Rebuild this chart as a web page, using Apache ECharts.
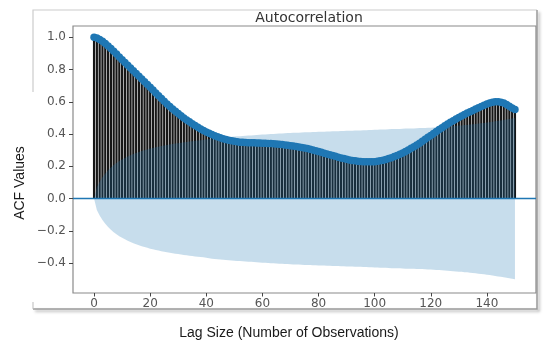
<!DOCTYPE html>
<html>
<head>
<meta charset="utf-8">
<script src="https://cdn.jsdelivr.net/npm/echarts@6/dist/echarts.min.js"></script>
<style>
html,body{margin:0;padding:0;background:#fff;}
#chart{width:550px;height:347px;}
</style>
</head>
<body>
<div id="chart"></div>
<script>
// ACF value for lag 0..150
const acfValues = [
1.000,0.995,0.987,0.976,0.962,0.946,0.930,0.913,0.896,0.878,
0.861,0.844,0.827,0.810,0.793,0.776,0.759,0.742,0.725,0.708,
0.691,0.673,0.655,0.637,0.620,0.603,0.587,0.571,0.556,0.541,
0.527,0.513,0.500,0.488,0.476,0.464,0.453,0.442,0.432,0.422,
0.413,0.405,0.397,0.390,0.383,0.377,0.371,0.366,0.362,0.358,
0.355,0.352,0.350,0.349,0.348,0.347,0.346,0.346,0.345,0.345,
0.344,0.343,0.342,0.341,0.340,0.339,0.337,0.335,0.333,0.331,
0.328,0.326,0.323,0.320,0.317,0.314,0.310,0.306,0.302,0.297,
0.292,0.287,0.282,0.277,0.272,0.267,0.262,0.257,0.252,0.248,
0.244,0.240,0.237,0.234,0.232,0.230,0.229,0.228,0.228,0.228,
0.229,0.231,0.234,0.238,0.243,0.248,0.254,0.261,0.268,0.275,
0.283,0.292,0.302,0.312,0.322,0.333,0.344,0.356,0.368,0.380,
0.392,0.404,0.416,0.428,0.440,0.451,0.462,0.473,0.483,0.493,
0.503,0.512,0.521,0.530,0.539,0.547,0.555,0.563,0.571,0.579,
0.586,0.592,0.597,0.600,0.601,0.598,0.592,0.583,0.573,0.562,
0.552
];
// half-width of the confidence band for lag 0..150
const confBand = [
0.000,0.070,0.105,0.133,0.156,0.176,0.193,0.208,0.221,0.233,
0.243,0.252,0.261,0.269,0.276,0.283,0.289,0.295,0.300,0.305,
0.310,0.314,0.318,0.322,0.326,0.329,0.332,0.335,0.338,0.341,
0.344,0.347,0.349,0.351,0.354,0.356,0.358,0.360,0.362,0.364,
0.367,0.370,0.372,0.374,0.376,0.377,0.379,0.380,0.382,0.383,
0.385,0.386,0.387,0.388,0.390,0.391,0.392,0.393,0.394,0.396,
0.397,0.398,0.399,0.400,0.401,0.402,0.403,0.404,0.405,0.406,
0.407,0.408,0.409,0.409,0.410,0.411,0.412,0.412,0.413,0.413,
0.414,0.415,0.415,0.416,0.416,0.417,0.418,0.418,0.419,0.419,
0.420,0.421,0.421,0.422,0.422,0.423,0.424,0.424,0.425,0.426,
0.427,0.427,0.428,0.429,0.429,0.430,0.431,0.431,0.432,0.432,
0.433,0.434,0.434,0.435,0.435,0.436,0.437,0.437,0.438,0.439,
0.440,0.441,0.442,0.443,0.444,0.446,0.447,0.448,0.450,0.451,
0.453,0.454,0.456,0.457,0.459,0.461,0.463,0.465,0.467,0.469,
0.472,0.474,0.477,0.479,0.482,0.485,0.488,0.491,0.494,0.497,
0.500
];
const xTicks = [0,20,40,60,80,100,120,140];
const yTicks = [-0.4,-0.2,0.0,0.2,0.4,0.6,0.8,1.0];
const titleText = 'Autocorrelation';
const xName = 'Lag Size (Number of Observations)';
const yName = 'ACF Values';

const acfData = acfValues.map((v,i)=>[i,v]);
const upperData = confBand.map((v,i)=>[i,v]);
const lowerData = confBand.map((v,i)=>[i,-v]);

const chart = echarts.init(document.getElementById('chart'), null, {renderer:'canvas'});
const bandColor = 'rgba(31,119,180,0.25)';
chart.setOption({
  animation:false,
  backgroundColor:'#fff',
  title:{text:titleText,left:304,top:6,textAlign:'center',
    textStyle:{fontFamily:'DejaVu Sans',fontSize:14,fontWeight:'normal',color:'#333'}},
  grid:{left:73,top:26,right:14,bottom:54,show:true,borderColor:'#8a8a8a',borderWidth:1.2,backgroundColor:'transparent'},
  xAxis:{type:'value',min:-7.5,max:157.5,
    axisLine:{show:false,onZero:false},splitLine:{show:false},
    axisTick:{show:true,customValues:xTicks,length:3.5,lineStyle:{color:'#444',width:1}},
    axisLabel:{customValues:xTicks,margin:5,fontFamily:'DejaVu Sans',fontSize:12,color:'#555'}},
  yAxis:{type:'value',min:-0.585,max:1.07,
    axisLine:{show:false,onZero:false},splitLine:{show:false},
    axisTick:{show:true,customValues:yTicks,length:4,lineStyle:{color:'#444',width:1}},
    axisLabel:{customValues:yTicks,margin:7,fontFamily:'DejaVu Sans',fontSize:12,color:'#555',
      formatter:v=>(v<-1e-9?'\u2212':'')+Math.abs(v).toFixed(1)}},
  graphic:[
    {type:'polyline',shape:{points:[[33,92],[33,10],[537,10]]},style:{stroke:'#cccccc',lineWidth:1.2,fill:null},silent:true},
    {type:'polyline',shape:{points:[[537,10],[537,309],[33,309]]},
      style:{stroke:'#9a9a9a',lineWidth:1.5,fill:null,shadowBlur:3,shadowOffsetX:2,shadowOffsetY:2,shadowColor:'rgba(0,0,0,0.35)'},silent:true},
    {type:'line',shape:{x1:33,y1:302,x2:33,y2:309},style:{stroke:'#bbbbbb',lineWidth:1},silent:true},
    {type:'text',x:289,y:333,style:{text:xName,fontFamily:'Liberation Sans',fontSize:14,fill:'#1a1a1a',align:'center',verticalAlign:'middle'},silent:true},
    {type:'text',x:20,y:183,rotation:Math.PI/2,style:{text:yName,fontFamily:'Liberation Sans',fontSize:14,fill:'#1a1a1a',align:'center',verticalAlign:'middle'},silent:true}
  ],
  series:[
    {type:'custom',z:2,data:acfData,
      renderItem:function(params,api){
        const p0=api.coord([api.value(0),0]);
        const p1=api.coord([api.value(0),api.value(1)]);
        return {type:'line',shape:{x1:p0[0],y1:p0[1],x2:p1[0],y2:p1[1]},style:{stroke:'#161616',lineWidth:2.2}};
      }},
    {type:'line',z:3,data:upperData,symbol:'none',lineStyle:{width:0},areaStyle:{color:bandColor,opacity:1},silent:true},
    {type:'line',z:3,data:lowerData,symbol:'none',lineStyle:{width:0},areaStyle:{color:bandColor,opacity:1},silent:true,
      markLine:{silent:true,symbol:'none',label:{show:false},lineStyle:{color:'#1f77b4',width:1.3,type:'solid'},data:[{yAxis:0}]}},
    {type:'scatter',z:5,data:acfData,symbol:'circle',symbolSize:7.5,itemStyle:{color:'#1f77b4',opacity:1}}
  ]
});
</script>
</body>
</html>
